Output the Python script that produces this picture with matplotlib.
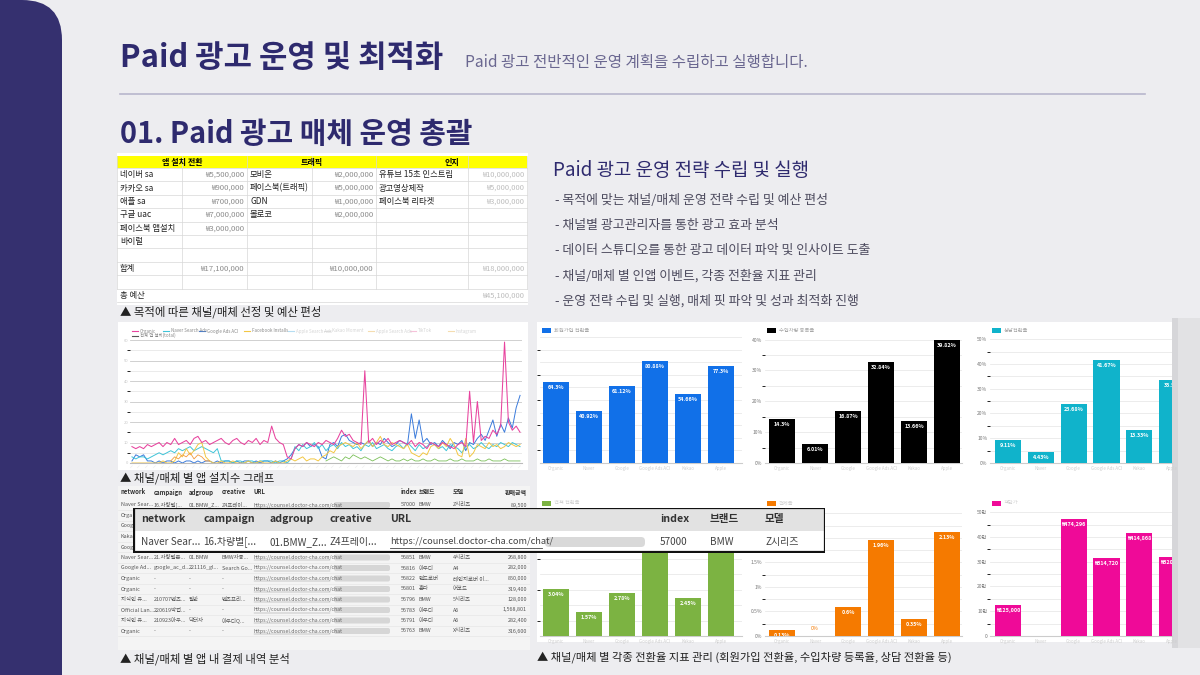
import numpy as np
import matplotlib
matplotlib.use("Agg")
import matplotlib.pyplot as plt
from matplotlib.patches import Rectangle, FancyBboxPatch

plt.rcParams['font.family'] = ['Noto Sans CJK KR', 'DejaVu Sans']

W, H = 1200, 675

# ---------------- texts ----------------
title = "Paid 광고 운영 및 최적화"
subtitle = "Paid 광고 전반적인 운영 계획을 수립하고 실행합니다."
section = "01. Paid 광고 매체 운영 총괄"
strategy_title = "Paid 광고 운영 전략 수립 및 실행"
strategy_items = [
    "- 목적에 맞는 채널/매체 운영 전략 수립 및 예산 편성",
    "- 채널별 광고관리자를 통한 광고 효과 분석",
    "- 데이터 스튜디오를 통한 광고 데이터 파악 및 인사이트 도출",
    "- 채널/매체 별 인앱 이벤트, 각종 전환율 지표 관리",
    "- 운영 전략 수립 및 실행, 매체 핏 파악 및 성과 최적화 진행",
]
cap_budget = "▲ 목적에 따른 채널/매체 선정 및 예산 편성"
cap_install = "▲ 채널/매체 별 앱 설치수 그래프"
cap_payment = "▲ 채널/매체 별 앱 내 결제 내역 분석"
cap_conv = "▲ 채널/매체 별 각종 전환율 지표 관리 (회원가입 전환율, 수입차량 등록율, 상담 전환율 등)"

# ---------------- budget table ----------------
budget_header = ["앱 설치 전환", "트래픽", "인지"]
app_names = ["네이버 sa", "카카오 sa", "애플 sa", "구글 uac", "페이스북 앱설치", "바이럴", "", "합계", "", "총 예산"]
app_costs = ["₩5,500,000", "₩900,000", "₩700,000", "₩7,000,000", "₩3,000,000", "", "", "₩17,100,000", "", ""]
traffic_names = ["모비온", "페이스북(트래픽)", "GDN", "몰로코", "", "", "", "", "", ""]
traffic_costs = ["₩2,000,000", "₩5,000,000", "₩1,000,000", "₩2,000,000", "", "", "", "₩10,000,000", "", ""]
aware_names = ["유튜브 15초 인스트림", "광고영상제작", "페이스북 리타겟", "", "", "", "", "", "", ""]
aware_costs = ["₩10,000,000", "₩5,000,000", "₩3,000,000", "", "", "", "", "₩18,000,000", "", "₩45,100,000"]

# ---------------- app installs per channel (daily) ----------------
organic = [8, 7, 8, 7, 9, 8, 9, 10, 8, 10, 9, 12,
           9, 10, 11, 9, 12, 13, 10, 11, 9, 10, 11, 12,
           10, 9, 11, 12, 10, 9, 11, 10, 12, 9, 11, 10,
           18, 12, 10, 9, 3, 2,
           7, 9, 8, 10, 9, 8, 10, 9, 11, 10, 9, 12,
           16, 13, 14, 11, 10, 9,
           45, 10, 12, 9, 11, 10, 12, 9, 10, 11,
           10, 9, 11, 8, 10, 9, 7, 10, 9, 8, 10, 9, 8, 7, 9, 10, 8,
           35, 10, 30, 11, 13, 12, 16, 14, 18, 59, 20, 16, 18, 15]
google_aci = [1, 4, 3, 4,
              1, 1, 0, 1, 0, 1, 1, 0, 1, 0, 1, 1, 0, 1, 0, 1, 1, 0, 1, 0, 1, 1, 0, 1, 0, 1, 1, 0, 1, 0, 1, 1, 0, 1, 0, 1,
              2, 4,
              7, 9, 8, 10, 8, 9, 8, 3, 2, 9, 10, 8,
              13, 14, 11, 10, 9, 10,
              9, 11, 8, 10, 9, 12, 10, 8, 9, 11, 10, 9,
              24, 12, 21, 10, 12, 9,
              10, 8, 11, 9, 7, 10, 9, 11, 6, 10, 9, 12,
              14, 11, 16, 21, 13, 19, 15, 22, 17, 27, 33]
naver_sa = [3, 2, 3, 3, 2, 3,
            4, 5, 4, 5, 6, 5, 7, 6, 7, 8, 6, 7, 8, 7, 6, 5, 7,
            1,
            1, 1, 0, 1, 1, 0, 1, 1, 0, 1, 1, 1, 1, 0, 1, 1, 0, 2,
            8, 6, 9, 7, 8, 10, 7, 9, 6, 8, 9, 7, 10, 8, 9, 7, 8, 6, 9, 8,
            10, 7, 8, 9, 7, 6, 8, 9, 7, 10, 8, 6, 9, 7, 8, 10, 9, 7, 8, 6,
            9, 8, 7, 5, 8, 9, 7, 8, 10, 8, 7, 9, 8, 10, 9, 8, 10, 9, 8]
facebook = [0, 0, 0, 0, 0, 0, 0, 0, 1, 0, 0, 1,
            5, 3, 7, 4, 6, 9, 10,
            3,
            1, 0, 0, 1, 0, 0, 1, 0, 0, 0, 1, 0, 0, 1, 0, 0, 0, 1, 0, 0, 1,
            2, 1, 2, 3, 1, 2, 2, 1, 3,
            4, 6, 5, 8, 9, 10,
            9, 8, 10, 7, 9, 11, 8, 10, 13, 9, 8, 10, 9, 8, 7, 9,
            5, 4, 3, 5, 4,
            8, 9, 7, 10, 8, 12, 9,
            4, 3, 12, 3, 5,
            9, 8, 7, 10, 8, 9, 7, 8, 10, 9, 8, 9]
apple_start = 10
apple_sa = [1, 3, 2, 4, 3, 5, 2, 4, 3, 1, 1]
kakao_start = 50
kakao = [1, 2, 3, 2, 1, 3, 2, 4, 3, 2,
         3, 2, 1, 2, 3, 2, 1, 2, 1, 1,
         2, 1, 2, 1, 1, 2, 1, 1, 2, 1,
         1, 1, 2, 1, 1, 2, 1, 1, 1, 2,
         1, 1, 2, 1, 1, 1, 2, 1, 1, 1, 1]
legend_names = ["Organic", "Naver Search Ads", "Google Ads ACI", "Facebook Installs",
                "Apple Search Ads", "Kakao Moment", "Apple Search Ads", "TikTok", "Instagram"]

# ---------------- conversion charts ----------------
channels = ["Organic", "Naver", "Google", "Google Ads ACI", "Kakao", "Apple"]
signup_rate = [64.3, 40.92, 61.12, 80.88, 54.66, 77.3]
register_rate = [14.3, 6.01, 16.87, 32.84, 13.66, 39.82]
consult_rate = [9.11, 4.43, 23.68, 41.67, 13.33, 33.5]
estimate_rate = [3.04, 1.57, 2.78, 7.1, 2.45, 7.4]
purchase_rate = [0.13, 0, 0.6, 1.96, 0.35, 2.13]
avg_payment = [125000, 0, 474296, 314720, 414868, 320000]

# ---------------- payment table ----------------
pay_cols = ["network", "campaign", "adgroup", "creative", "URL", "index", "브랜드", "모델", "판매금액"]
pay_network = ["Naver Sear...", "Organic", "Google A...", "Kakao S...", "Google A...", "Naver Sear...",
               "Google Ad...", "Organic", "Organic", "지식인 유...", "Official Lan...", "지식인 유...", "Organic"]
pay_campaign = ["16.차량별[...", "-", "google_ac...", "카카오모...", "google_ac...", "21.차량별본...",
                "google_ac_d...", "-", "-", "210707벤츠...", "220619박업...", "210923아우...", "-"]
pay_adgroup = ["01.BMW_Z...", "-", "221116_gl...", "BMW", "221116_gl...", "01.BMW",
               "221116_gl...", "-", "-", "일반", "-", "닥터차", "-"]
pay_creative = ["Z4프레이...", "-", "Search Go...", "BMW차종...", "Search Go...", "BMW차종...",
                "Search Go...", "-", "-", "벤츠프리...", "-", "아우디Q...", "-"]
pay_index = [57000, 56998, 56990, 56985, 56870, 56851, 56816, 56822, 56801, 56796, 56783, 56791, 56763]
pay_brand = ["BMW", "벤츠", "아우디", "BMW", "벤츠", "BMW", "아우디", "랜드로버", "혼다", "BMW", "아우디", "아우디", "BMW"]
pay_model = ["Z시리즈", "E클래스", "A6", "3시리즈", "C클래스", "4시리즈", "A4", "레인지로버 이...", "어코드",
             "5시리즈", "A6", "A6", "X시리즈"]
pay_amount = ["89,500", "312,000", "282,000", "128,000", "250,000", "268,800", "282,000", "850,000", "319,400",
              "128,000", "1,568,801", "282,400", "316,600"]
url_text = "https://counsel.doctor-cha.com/chat/"

# ---------------- colors ----------------
BG = "#EDEDF0"
NAVY = "#2E2A6E"
PURPLE = "#35306F"

fig = plt.figure(figsize=(12, 6.75), dpi=100)
fig.patch.set_facecolor(BG)


def px_axes(x, y, w, h, z=1):
    return fig.add_axes([x / W, 1 - (y + h) / H, w / W, h / H], zorder=z)


def page_panel(x, y, w, h, z=1, fc="white"):
    ax = px_axes(x, y, w, h, z)
    ax.set_xlim(x, x + w)
    ax.set_ylim(y + h, y)
    ax.set_facecolor(fc)
    ax.set_xticks([])
    ax.set_yticks([])
    for s in ax.spines.values():
        s.set_visible(False)
    return ax


# page layer
ax0 = fig.add_axes([0, 0, 1, 1], zorder=0)
ax0.set_xlim(0, W)
ax0.set_ylim(H, 0)
ax0.axis("off")

ax0.add_patch(FancyBboxPatch((-100, 0), 162, 720, boxstyle="round,pad=0,rounding_size=40",
                             fc=PURPLE, ec="none"))
ax0.text(120, 58, title, fontsize=22.2, fontweight="bold", color=NAVY, va="center")
ax0.text(465, 63, subtitle, fontsize=11.2, color="#6A6790", va="center")
ax0.plot([120, 1145], [94, 94], color="#B8B6CC", lw=1.2)
ax0.text(120, 134, section, fontsize=20.8, fontweight="bold", color=NAVY, va="center")

ax0.text(553, 171, strategy_title, fontsize=13.6, color=NAVY, va="center", fontweight="medium")
for k, item in enumerate(strategy_items):
    ax0.text(555, 200 + k * 25.2, item, fontsize=9.3, color="#4D4B5E", va="center")

ax0.text(120, 312, cap_budget, fontsize=8.2, color="#222222", va="center")
ax0.text(120, 478, cap_install, fontsize=8.2, color="#222222", va="center")
ax0.text(120, 659, cap_payment, fontsize=8.2, color="#222222", va="center")
ax0.text(537, 657, cap_conv, fontsize=8.1, color="#222222", va="center")

# white backdrop for conversion charts + shadow on the right
ax0.add_patch(Rectangle((537, 322), 635, 320, fc="white", ec="none"))
ax0.add_patch(Rectangle((1172, 318), 28, 330, fc="#E2E2E4", ec="none"))
ax0.add_patch(Rectangle((1172, 318), 6, 330, fc="#D6D6D9", ec="none"))

# ---------------- budget table ----------------
tb = page_panel(117, 153, 411, 152)
cols_x = [117, 182, 247, 312, 376, 468, 527]
row_top = 168
row_h = 13.4
tb.add_patch(Rectangle((117, 156), 410, 12, fc="#FFFF00", ec="none"))
for lab, x0, x1 in zip(budget_header, cols_x[0:6:2], cols_x[2:7:2]):
    tb.text((x0 + x1) / 2, 162, lab, fontsize=5.8, fontweight="bold", ha="center", va="center")
for r in range(len(app_names) + 1):
    y = row_top + r * row_h
    tb.plot([117, 527], [y, y], color="#D8D8D8", lw=0.5)
for cx in cols_x:
    tb.plot([cx, cx], [156, row_top + 9 * row_h], color="#D8D8D8", lw=0.5)
for r in range(len(app_names)):
    y = row_top + (r + 0.5) * row_h
    tb.text(120, y, app_names[r], fontsize=6.0, va="center", color="#222")
    tb.text(244, y, app_costs[r], fontsize=5.6, va="center", ha="right", color="#8C8C8C")
    tb.text(250, y, traffic_names[r], fontsize=6.0, va="center", color="#222")
    tb.text(373, y, traffic_costs[r], fontsize=5.6, va="center", ha="right", color="#8C8C8C")
    tb.text(379, y, aware_names[r], fontsize=6.0, va="center", color="#222")
    tb.text(524, y, aware_costs[r], fontsize=5.4, va="center", ha="right", color="#BDBDBD")

# ---------------- install line chart ----------------
lp = page_panel(118, 322, 410, 148)
leg_x = [132, 163, 199, 244, 288, 324, 368, 410, 448]
leg_c = ["#E8439E", "#3FC4D8", "#3B7BDB", "#F2C744", "#B5DDF2", "#E0E0E0", "#F5DDB0", "#F6C2DA", "#F5DDB0"]
leg_tc = ["#888"] * 4 + ["#D5D5D5"] * 5
for name, x, c, tc in zip(legend_names, leg_x, leg_c, leg_tc):
    lp.plot([x, x + 6], [331, 331], color=c, lw=0.8)
    lp.text(x + 8, 331, name, fontsize=3.2, color=tc, va="center")
lp.plot([132, 138], [335.5, 335.5], color="#555", lw=0.8)
lp.text(140, 335.5, "전체 앱 설치(total)", fontsize=3.2, color="#888", va="center")

la = px_axes(130, 339, 392, 124, z=2)
la.patch.set_alpha(0)
x_all = np.arange(len(organic))
la.plot(np.arange(len(google_aci)), google_aci, color="#3B7BDB", lw=0.7)
la.plot(np.arange(len(naver_sa)), naver_sa, color="#3FC4D8", lw=0.7)
la.plot(np.arange(len(facebook)), facebook, color="#F2C744", lw=0.7)
la.plot(apple_start + np.arange(len(apple_sa)), apple_sa, color="#F39A3D", lw=0.6)
la.plot(kakao_start + np.arange(len(kakao)), kakao, color="#7CC05A", lw=0.6)
la.plot(x_all, organic, color="#E8439E", lw=0.75)
la.set_xlim(-0.5, len(organic) - 0.5)
la.set_ylim(0, 60.5)
la.set_yticks(range(0, 61, 10))
la.set_yticks(range(5, 60, 10), minor=True)
la.set_yticklabels([str(v) for v in range(0, 61, 10)], fontsize=3, color="#C8C8C8")
la.grid(True, which="major", axis="y", color="#C9C9C9", lw=0.6)
la.grid(True, which="minor", axis="y", color="#E3E3E3", lw=0.5)
la.set_xticks(x_all[::2])
la.set_xticklabels(["—"] * len(x_all[::2]), fontsize=3, color="#C8C8C8", rotation=45)
la.tick_params(length=0, pad=1)
for s in ["top", "right", "left"]:
    la.spines[s].set_visible(False)
la.spines["bottom"].set_color("#BBBBBB")
la.set_axisbelow(True)

# ---------------- payment table ----------------
pt = page_panel(118, 486, 412, 164, fc="#F4F4F4")
col_x = [121, 154, 189, 222, 254, 401, 419, 453, 527]
col_ha = ["left"] * 8 + ["right"]
for c, x, ha in zip(pay_cols, col_x, col_ha):
    pt.text(x, 492, c, fontsize=4.3, fontweight="bold", color="#333", ha=ha, va="center")
hidden = range(1, 5)  # rows covered by the zoomed overlay, only their left edge shows
for r in range(len(pay_network)):
    y = 505 + r * 10.5
    pt.plot([118, 530], [y + 5.2, y + 5.2], color="#E3E3E3", lw=0.4)
    if r in hidden:
        pt.text(121, y, pay_network[r][:4], fontsize=3.9, color="#555", va="center", clip_on=True)
        continue
    row = [pay_network[r], pay_campaign[r], pay_adgroup[r], pay_creative[r]]
    for t, x in zip(row, col_x[:4]):
        pt.text(x, y, t, fontsize=3.9, color="#555", va="center", clip_on=True)
    pt.text(254, y, url_text[:-1], fontsize=3.7, color="#666", va="center", clip_on=True)
    pt.plot([254, 330], [y + 2.5, y + 2.5], color="#888", lw=0.3)
    pt.add_patch(FancyBboxPatch((334, y - 3), 56, 6, boxstyle="round,pad=0,rounding_size=2",
                                fc="#D6D6D6", ec="none"))
    pt.text(401, y, str(pay_index[r]), fontsize=3.9, color="#555", va="center", clip_on=True)
    pt.text(419, y, pay_brand[r], fontsize=3.9, color="#555", va="center", clip_on=True)
    pt.text(453, y, pay_model[r], fontsize=3.9, color="#555", va="center", clip_on=True)
    pt.text(527, y, pay_amount[r], fontsize=3.9, color="#555", va="center", ha="right", clip_on=True)


# ---------------- conversion bar charts ----------------
def conv_chart(x, y, w, h, vals, color, ymax, grid_step, tick_step, fmt, xlim, labels,
               show_y=True, legend=("", "#C8C8C8"), leg_y=None):
    ax = px_axes(x, y, w, h, z=2)
    ax.patch.set_alpha(0)
    pos = np.arange(len(vals))
    ax.bar(pos, vals, width=0.8, color=color, zorder=3)
    ax.set_xlim(*xlim)
    ax.set_ylim(0, ymax)
    ax.set_yticks(np.arange(0, ymax + 1e-9, grid_step), minor=True)
    ticks = np.arange(0, ymax + 1e-9, tick_step)
    ax.set_yticks(ticks)
    ax.set_yticklabels([fmt(t) for t in ticks], fontsize=3.6, color="#777")
    if not show_y:
        ax.tick_params(labelleft=False)
    ax.grid(True, which="both", axis="y", color="#E9E9E9", lw=0.6)
    ax.set_axisbelow(True)
    ax.set_xticks(pos)
    ax.set_xticklabels(channels, fontsize=3.2, color="#CFCFCF")
    ax.tick_params(length=0, pad=2)
    for s in ["top", "right", "left"]:
        ax.spines[s].set_visible(False)
    ax.spines["bottom"].set_color("#CCCCCC")
    off = 3 * ymax / h
    for p, v, lab in zip(pos, vals, labels):
        if v == 0:
            if lab:
                ax.text(p, off * 1.5, lab, fontsize=3.8, color=color, ha="center", va="bottom", clip_on=True)
        else:
            ax.text(p, v - off, lab, fontsize=3.9, color="white", fontweight="bold",
                    ha="center", va="top", clip_on=True, zorder=4)
    ly = leg_y if leg_y is not None else y - 7
    ax0.add_patch(Rectangle((x + 2, ly - 2.5), 9, 5, fc=color, ec="none", zorder=3))
    ax0.text(x + 14, ly, legend[0], fontsize=3.8, color=legend[1], va="center", zorder=3)
    return ax


pct = lambda t: f"{t:g}%"
won = lambda t: "0" if t == 0 else f"{int(t // 10000)}만"

conv_chart(540, 337, 202, 126, signup_rate, "#1170E8", 100, 10, 20, pct, (-0.48, 5.64),
           [pct(v) for v in signup_rate], show_y=False, legend=("회원가입 전환율", "#A8A8A8"), leg_y=330)
conv_chart(765, 338, 197, 125, register_rate, "#000000", 40.5, 5, 10, pct, (-0.52, 5.45),
           [pct(v) for v in register_rate], legend=("수입차량 등록율", "#A8A8A8"), leg_y=330)
conv_chart(990, 338, 182, 125, consult_rate, "#10B3CB", 50.5, 5, 10, pct, (-0.55, 4.97),
           [pct(v) for v in consult_rate], legend=("상담전환율", "#A8A8A8"), leg_y=330)
conv_chart(540, 512, 202, 124, estimate_rate, "#7CB342", 8, 1, 2, pct, (-0.48, 5.64),
           [pct(v) for v in estimate_rate], show_y=False, legend=("견적 전환율", "#D2D2D2"), leg_y=503)
conv_chart(765, 511, 197, 125, purchase_rate, "#F57A00", 2.55, 0.25, 0.5, pct, (-0.52, 5.45),
           [pct(v) for v in purchase_rate], legend=("결제율", "#D2D2D2"), leg_y=503)
conv_chart(990, 511, 182, 125, avg_payment, "#EF0A98", 505000, 50000, 100000, won, (-0.55, 4.97),
           ["" if v == 0 else f"₩{v:,}" for v in avg_payment], legend=("객단가", "#D2D2D2"), leg_y=503)

# ---------------- zoomed row overlay ----------------
ov = page_panel(133, 508, 692, 45, z=5, fc="white")
ov.add_patch(Rectangle((133, 508), 692, 23, fc="#E2E2E2", ec="none"))
ov_x = [141, 203, 270, 330, 390, 660, 710, 765]
ov_head = pay_cols[:8]
ov_row = [pay_network[0], pay_campaign[0], pay_adgroup[0], pay_creative[0], url_text,
          str(pay_index[0]), pay_brand[0], pay_model[0]]
for k, (x, hd, val) in enumerate(zip(ov_x, ov_head, ov_row)):
    ov.text(x, 519.5, hd, fontsize=7.6, fontweight="bold", color="#333", va="center")
    ov.text(x, 542, val, fontsize=6.6 if k == 4 else 7.2, color="#444", va="center")
ov.plot([390, 542], [548, 548], color="#444", lw=0.6)
ov.add_patch(FancyBboxPatch((545, 537), 100, 10, boxstyle="round,pad=0,rounding_size=4",
                            fc="#D9D9D9", ec="none"))
ov.add_patch(Rectangle((133.5, 508.5), 691, 44, fc="none", ec="#111111", lw=1.6))

fig.savefig("out.png", dpi=100, facecolor=fig.get_facecolor())
